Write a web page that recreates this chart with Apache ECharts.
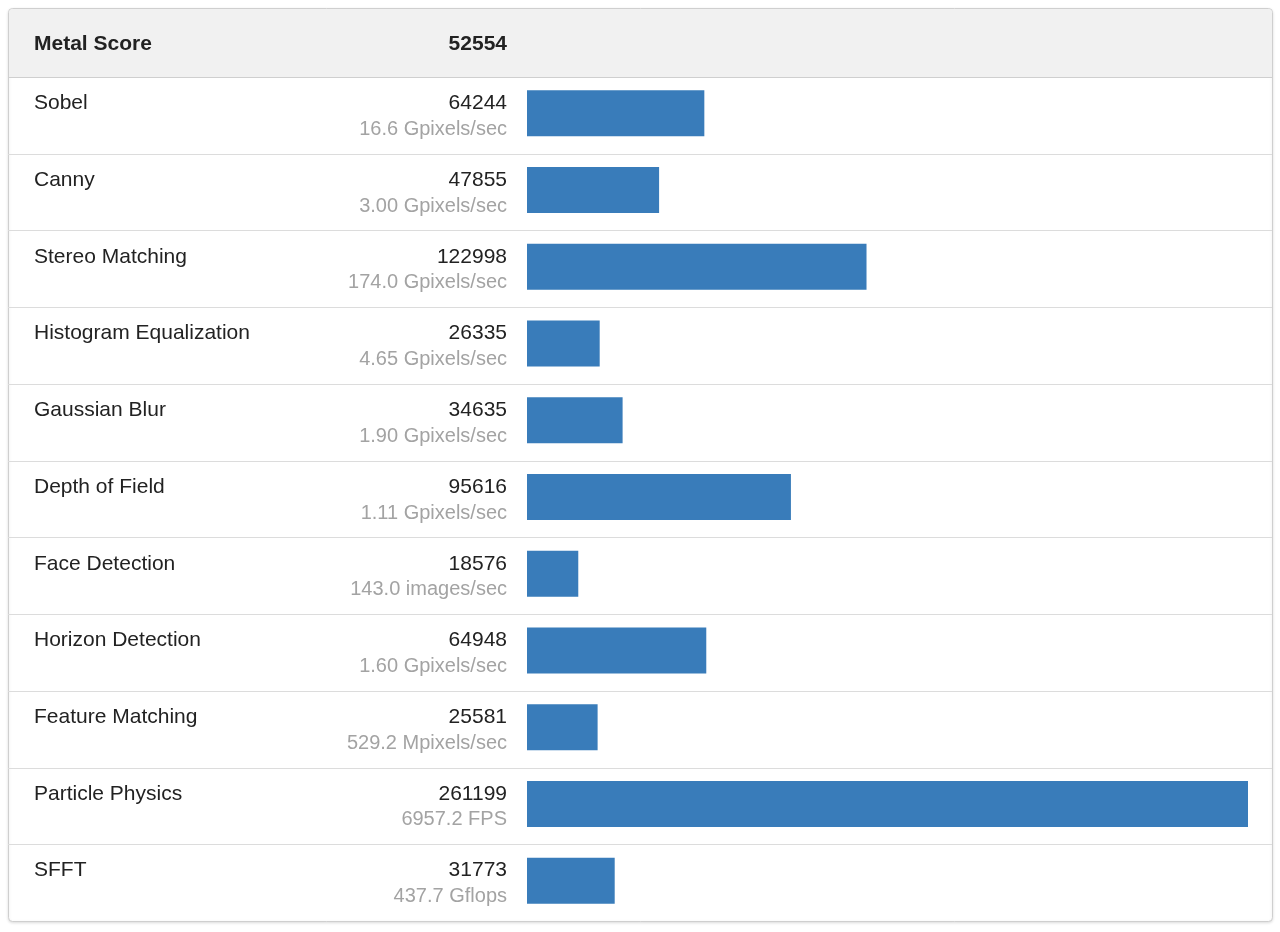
<!DOCTYPE html>
<html>
<head>
<meta charset="utf-8">
<title>Metal Score</title>
<script src="https://cdn.jsdelivr.net/npm/echarts@6/dist/echarts.min.js"></script>
<style>
  html, body { margin: 0; padding: 0; background: #fff; }
  #main { width: 1280px; height: 932px; }
</style>
</head>
<body>
<div id="main"></div>
<script>
var headerName = 'Metal Score';
var headerScore = 52554;

var tests = ['Sobel', 'Canny', 'Stereo Matching', 'Histogram Equalization', 'Gaussian Blur',
  'Depth of Field', 'Face Detection', 'Horizon Detection', 'Feature Matching',
  'Particle Physics', 'SFFT'];
var scores = [64244, 47855, 122998, 26335, 34635, 95616, 18576, 64948, 25581, 261199, 31773];
var rates = ['16.6 Gpixels/sec', '3.00 Gpixels/sec', '174.0 Gpixels/sec', '4.65 Gpixels/sec',
  '1.90 Gpixels/sec', '1.11 Gpixels/sec', '143.0 images/sec', '1.60 Gpixels/sec',
  '529.2 Mpixels/sec', '6957.2 FPS', '437.7 Gflops'];

var FONT = '"Liberation Sans", Arial, Helvetica, sans-serif';
var boxL = 8, boxR = 1272, boxT = 8, boxB = 921, headB = 77;
var rowH = (boxB - headB) / tests.length;

var dom = document.getElementById('main');
var myChart = echarts.init(dom);

// row separators
var lines = [];
for (var i = 1; i < tests.length; i++) {
  var y = Math.round(headB + rowH * i) + 0.5;
  lines.push({
    type: 'line',
    shape: { x1: boxL, y1: y, x2: boxR, y2: y },
    style: { stroke: '#dcdcdc', lineWidth: 1 },
    z: 1
  });
}

var option = {
  backgroundColor: '#ffffff',
  animation: false,
  // bars sit a touch above the row middle
  grid: { left: 527, right: 32, top: headB - 2, bottom: 932 - boxB + 2 },
  xAxis: {
    type: 'value',
    min: 0,
    max: 261199,
    show: false
  },
  yAxis: [{
    type: 'category',
    data: tests,
    inverse: true,
    position: 'left',
    axisLine: { show: false },
    axisTick: { show: false },
    splitLine: { show: false },
    axisLabel: {
      margin: 527 - 34,
      align: 'left',
      padding: [6, 0, 0, 0],
      formatter: function (v) { return '{n|' + v + '}\n{s| }'; },
      rich: {
        n: { fontFamily: FONT, fontSize: 21, color: '#222222', lineHeight: 26 },
        s: { fontFamily: FONT, fontSize: 20, lineHeight: 26 }
      }
    }
  }, {
    type: 'category',
    data: tests,
    inverse: true,
    position: 'left',
    axisLine: { show: false },
    axisTick: { show: false },
    splitLine: { show: false },
    axisLabel: {
      margin: 20,
      align: 'right',
      padding: [6, 0, 0, 0],
      formatter: function (v, idx) {
        return '{n|' + scores[idx] + '}\n{s|' + rates[idx] + '}';
      },
      rich: {
        n: { fontFamily: FONT, fontSize: 21, color: '#222222', lineHeight: 26, align: 'right' },
        s: { fontFamily: FONT, fontSize: 20, color: '#a3a3a3', lineHeight: 26, align: 'right' }
      }
    }
  }],
  series: [{
    type: 'bar',
    data: scores,
    barWidth: 46,
    itemStyle: { color: '#397cba' },
    z: 3
  }],
  graphic: [
    {
      type: 'rect',
      shape: { x: boxL + 0.5, y: boxT + 0.5, width: boxR - boxL, height: boxB - boxT, r: 4 },
      style: { fill: '#ffffff', stroke: '#cfcfcf', lineWidth: 1,
        shadowBlur: 3, shadowColor: 'rgba(0,0,0,0.12)', shadowOffsetY: 1 },
      z: -10
    },
    {
      type: 'rect',
      shape: { x: boxL + 1, y: boxT + 1, width: boxR - boxL - 1, height: headB - boxT - 1, r: [4, 4, 0, 0] },
      style: { fill: '#f1f1f1' },
      z: 0
    },
    {
      type: 'line',
      shape: { x1: boxL, y1: headB + 0.5, x2: boxR, y2: headB + 0.5 },
      style: { stroke: '#cfcfcf', lineWidth: 1 },
      z: 1
    },
    {
      type: 'text',
      x: 34, y: 44,
      style: { text: headerName, font: 'bold 21px ' + FONT, fill: '#222222',
        textAlign: 'left', textVerticalAlign: 'middle' },
      z: 2
    },
    {
      type: 'text',
      x: 507, y: 44,
      style: { text: String(headerScore), font: 'bold 21px ' + FONT, fill: '#222222',
        textAlign: 'right', textVerticalAlign: 'middle' },
      z: 2
    }
  ].concat(lines)
};

myChart.setOption(option);
</script>
</body>
</html>
